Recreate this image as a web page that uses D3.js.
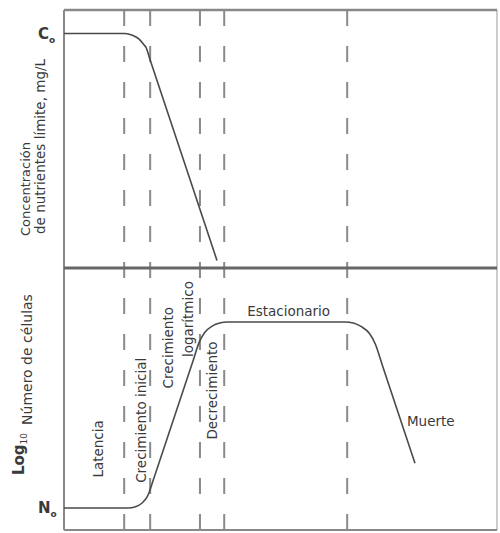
<!DOCTYPE html>
<html><head><meta charset="utf-8">
<script src="https://cdn.jsdelivr.net/npm/d3@7/dist/d3.min.js"></script>
<style>
html,body{margin:0;padding:0;background:#fff;}
svg{display:block;}
text{font-family:"DejaVu Sans",Verdana,sans-serif;fill:#3a3a3a;}
</style></head>
<body><svg id="chart" width="500" height="533"></svg>
<script>
// ---- data (time in arbitrary units 0..100) ----
const phaseBoundaries = [13.9, 19.9, 31.4, 37.0, 65.4];

const nutrientTime = [0, 14.09, 15.82, 17.34, 18.50, 18.91, 19.86, 34.18, 35.33];
const nutrientConc = [100, 100, 99.2, 97.6, 95.1, 94.2, 88.9, 9.6, 3.2];

const cellTime = [0, 14.78, 16.51, 18.04, 19.19, 19.61, 20.5, 30.0, 31.18, 32.45, 34.30, 35.96, 37.76,
                  64.90, 66.81, 68.59, 70.55, 71.89, 73.5, 81.06];
const cellLog  = [0.84, 0.84, 0.89, 1.03, 1.26, 1.41, 1.85, 6.56, 7.15, 7.53, 7.79, 7.90, 7.94,
                  7.94, 7.90, 7.77, 7.50, 7.10, 6.30, 2.55];

const phaseLabels = [
  {text: "Latencia", t: 8.9, v: 2.0, rot: true},
  {text: "Crecimiento inicial", t: 19.0, v: 1.8, rot: true},
  {text: "Crecimiento", t: 25.2, v: 5.4, rot: true},
  {text: "logarítmico", t: 29.8, v: 6.6, rot: true},
  {text: "Decrecimiento", t: 35.3, v: 3.45, rot: true},
  {text: "Estacionario", t: 42.3, v: 8.18, rot: false},
  {text: "Muerte", t: 79.2, v: 3.96, rot: false}
];

// ---- layout ----
const svg = d3.select("#chart");
const L = 64, R = 497, T = 10, MID = 268, B = 530;

const x = d3.scaleLinear().domain([0, 100]).range([L, R]);
const yTop = d3.scaleLinear().domain([0, 110]).range([MID, T]);
const yBot = d3.scaleLinear().domain([0, 10]).range([B, MID]);

// frame
svg.append("line").attr("x1", R).attr("x2", R).attr("y1", T).attr("y2", B).attr("stroke", "#bbb").attr("stroke-width", 1.5);
svg.append("line").attr("x1", L).attr("x2", R).attr("y1", B).attr("y2", B).attr("stroke", "#888").attr("stroke-width", 2);
svg.append("line").attr("x1", L).attr("x2", R).attr("y1", T).attr("y2", T).attr("stroke", "#888").attr("stroke-width", 2.5);
svg.append("line").attr("x1", L).attr("x2", L).attr("y1", T).attr("y2", B).attr("stroke", "#888").attr("stroke-width", 2);

// dashed phase boundaries
svg.selectAll("line.phase").data(phaseBoundaries).enter().append("line")
  .attr("class", "phase")
  .attr("x1", d => x(d)).attr("x2", d => x(d))
  .attr("y1", T).attr("y2", B)
  .attr("stroke", "#8a8a8a").attr("stroke-width", 2)
  .attr("stroke-dasharray", "16,20");

// divider
svg.append("line").attr("x1", L).attr("x2", R).attr("y1", MID).attr("y2", MID).attr("stroke", "#666").attr("stroke-width", 3);

// curves
const topLine = d3.line().x(d => x(d[0])).y(d => yTop(d[1])).curve(d3.curveMonotoneX);
const botLine = d3.line().x(d => x(d[0])).y(d => yBot(d[1])).curve(d3.curveMonotoneX);

svg.append("path").attr("d", topLine(d3.zip(nutrientTime, nutrientConc)))
  .attr("fill", "none").attr("stroke", "#4a4a4a").attr("stroke-width", 1.6);
svg.append("path").attr("d", botLine(d3.zip(cellTime, cellLog)))
  .attr("fill", "none").attr("stroke", "#4a4a4a").attr("stroke-width", 1.6);

// C0 and N0
const c0 = svg.append("text").attr("x", 38).attr("y", yTop(100) + 6).attr("font-weight", "bold").attr("font-size", 15);
c0.append("tspan").text("C");
c0.append("tspan").attr("font-size", 9).attr("dy", 4).text("o");
const n0 = svg.append("text").attr("x", 38).attr("y", yBot(0.84) + 5).attr("font-weight", "bold").attr("font-size", 15);
n0.append("tspan").text("N");
n0.append("tspan").attr("font-size", 9).attr("dy", 4).text("o");

// y labels
svg.append("text").attr("transform", "translate(30,236) rotate(-90)").attr("font-size", 13).text("Concentración");
svg.append("text").attr("transform", "translate(45,234) rotate(-90)").attr("font-size", 13.5).text("de nutrientes límite, mg/L");
const yl = svg.append("text").attr("transform", "translate(24,475) rotate(-90)");
yl.append("tspan").attr("font-size", 15).attr("font-weight", "bold").text("Log");
yl.append("tspan").attr("font-size", 9).attr("dy", 3).text("10");
yl.append("tspan").attr("font-size", 14).attr("dx", 8).attr("dy", 5).text("Número de células");

// phase labels
phaseLabels.forEach(p => {
  const t = svg.append("text").attr("font-size", 13.5).text(p.text);
  if (p.rot) t.attr("transform", `translate(${x(p.t)},${yBot(p.v)}) rotate(-90)`);
  else t.attr("x", x(p.t)).attr("y", yBot(p.v));
});
</script></body></html>
